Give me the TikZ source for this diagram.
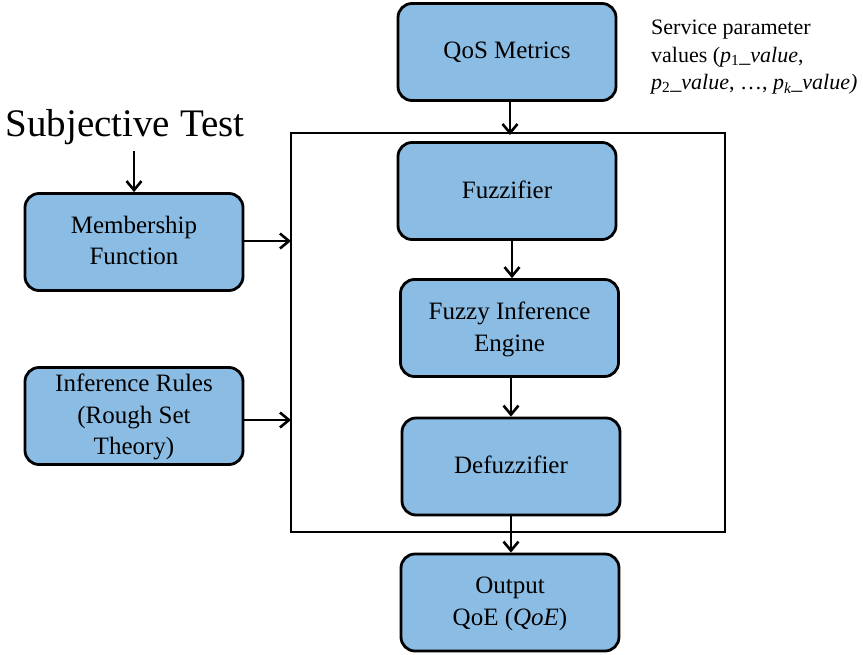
\documentclass[tikz,border=0pt]{standalone}
\usepackage{fontspec}
\setmainfont{Liberation Serif}
\usetikzlibrary{arrows.meta}
\definecolor{boxblue}{RGB}{139,188,228}
\begin{document}
\begin{tikzpicture}[x=1pt,y=-1pt,
  blk/.style={draw=black,line width=2.8pt,fill=boxblue,rounded corners=14pt,
    minimum width=218pt,minimum height=97pt,align=center,font=\fontsize{25}{31.5}\selectfont,inner sep=0pt,
    text depth=3pt},
  arr/.style={line width=2.8pt,-{Straight Barb[length=9pt,width=15pt,line width=2.6pt]}}]
\useasboundingbox (0,0) rectangle (863,654);
\node[blk] (qos) at (507,52) {QoS Metrics};
\node[blk] (fuz) at (507,191) {Fuzzifier};
\node[blk] (fie) at (509.5,328) {Fuzzy Inference\\Engine};
\node[blk] (def) at (511,466.5) {Defuzzifier};
\node[blk] (out) at (510,602.5) {Output\\QoE (\textit{QoE})};
\node[blk] (mem) at (134,242) {Membership\\Function};
\node[blk] (inf) at (134,416) {Inference Rules\\(Rough Set\\Theory)};
\draw[line width=2.8pt] (291,133) rectangle (725,532);
\coordinate (rtop) at (510,133);
\coordinate (rbot) at (511,532);
\coordinate (rl1) at (291,241);
\coordinate (rl2) at (291,420);
\node[font=\fontsize{39}{45}\selectfont,inner sep=0pt] (subj) at (125,127) {Subjective Test};
\node[font=\fontsize{22}{27.5}\selectfont,align=left,anchor=north west,inner sep=0pt] (svc) at (651,20)
  {Service parameter\\values (\textit{p}\textsubscript{1}\_\textit{value},\\\textit{p}\textsubscript{2}\_\textit{value}, …, \textit{p\textsubscript{k}}\_\textit{value)}};
\draw[arr] (134,151) -- (mem.north);
\draw[arr] (qos.south -| rtop) -- ([yshift=-2pt]rtop);
\draw[arr] ([xshift=5pt]fuz.south) -- ([xshift=5pt]fuz.south |- fie.north);
\draw[arr] ([xshift=1.5pt]fie.south) -- ([xshift=1.5pt]fie.south |- def.north);
\draw[arr] (rbot |- def.south) -- (rbot |- out.north);
\draw[arr] (mem.east |- rl1) -- (rl1);
\draw[arr] (inf.east |- rl2) -- (rl2);
\end{tikzpicture}
\end{document}
